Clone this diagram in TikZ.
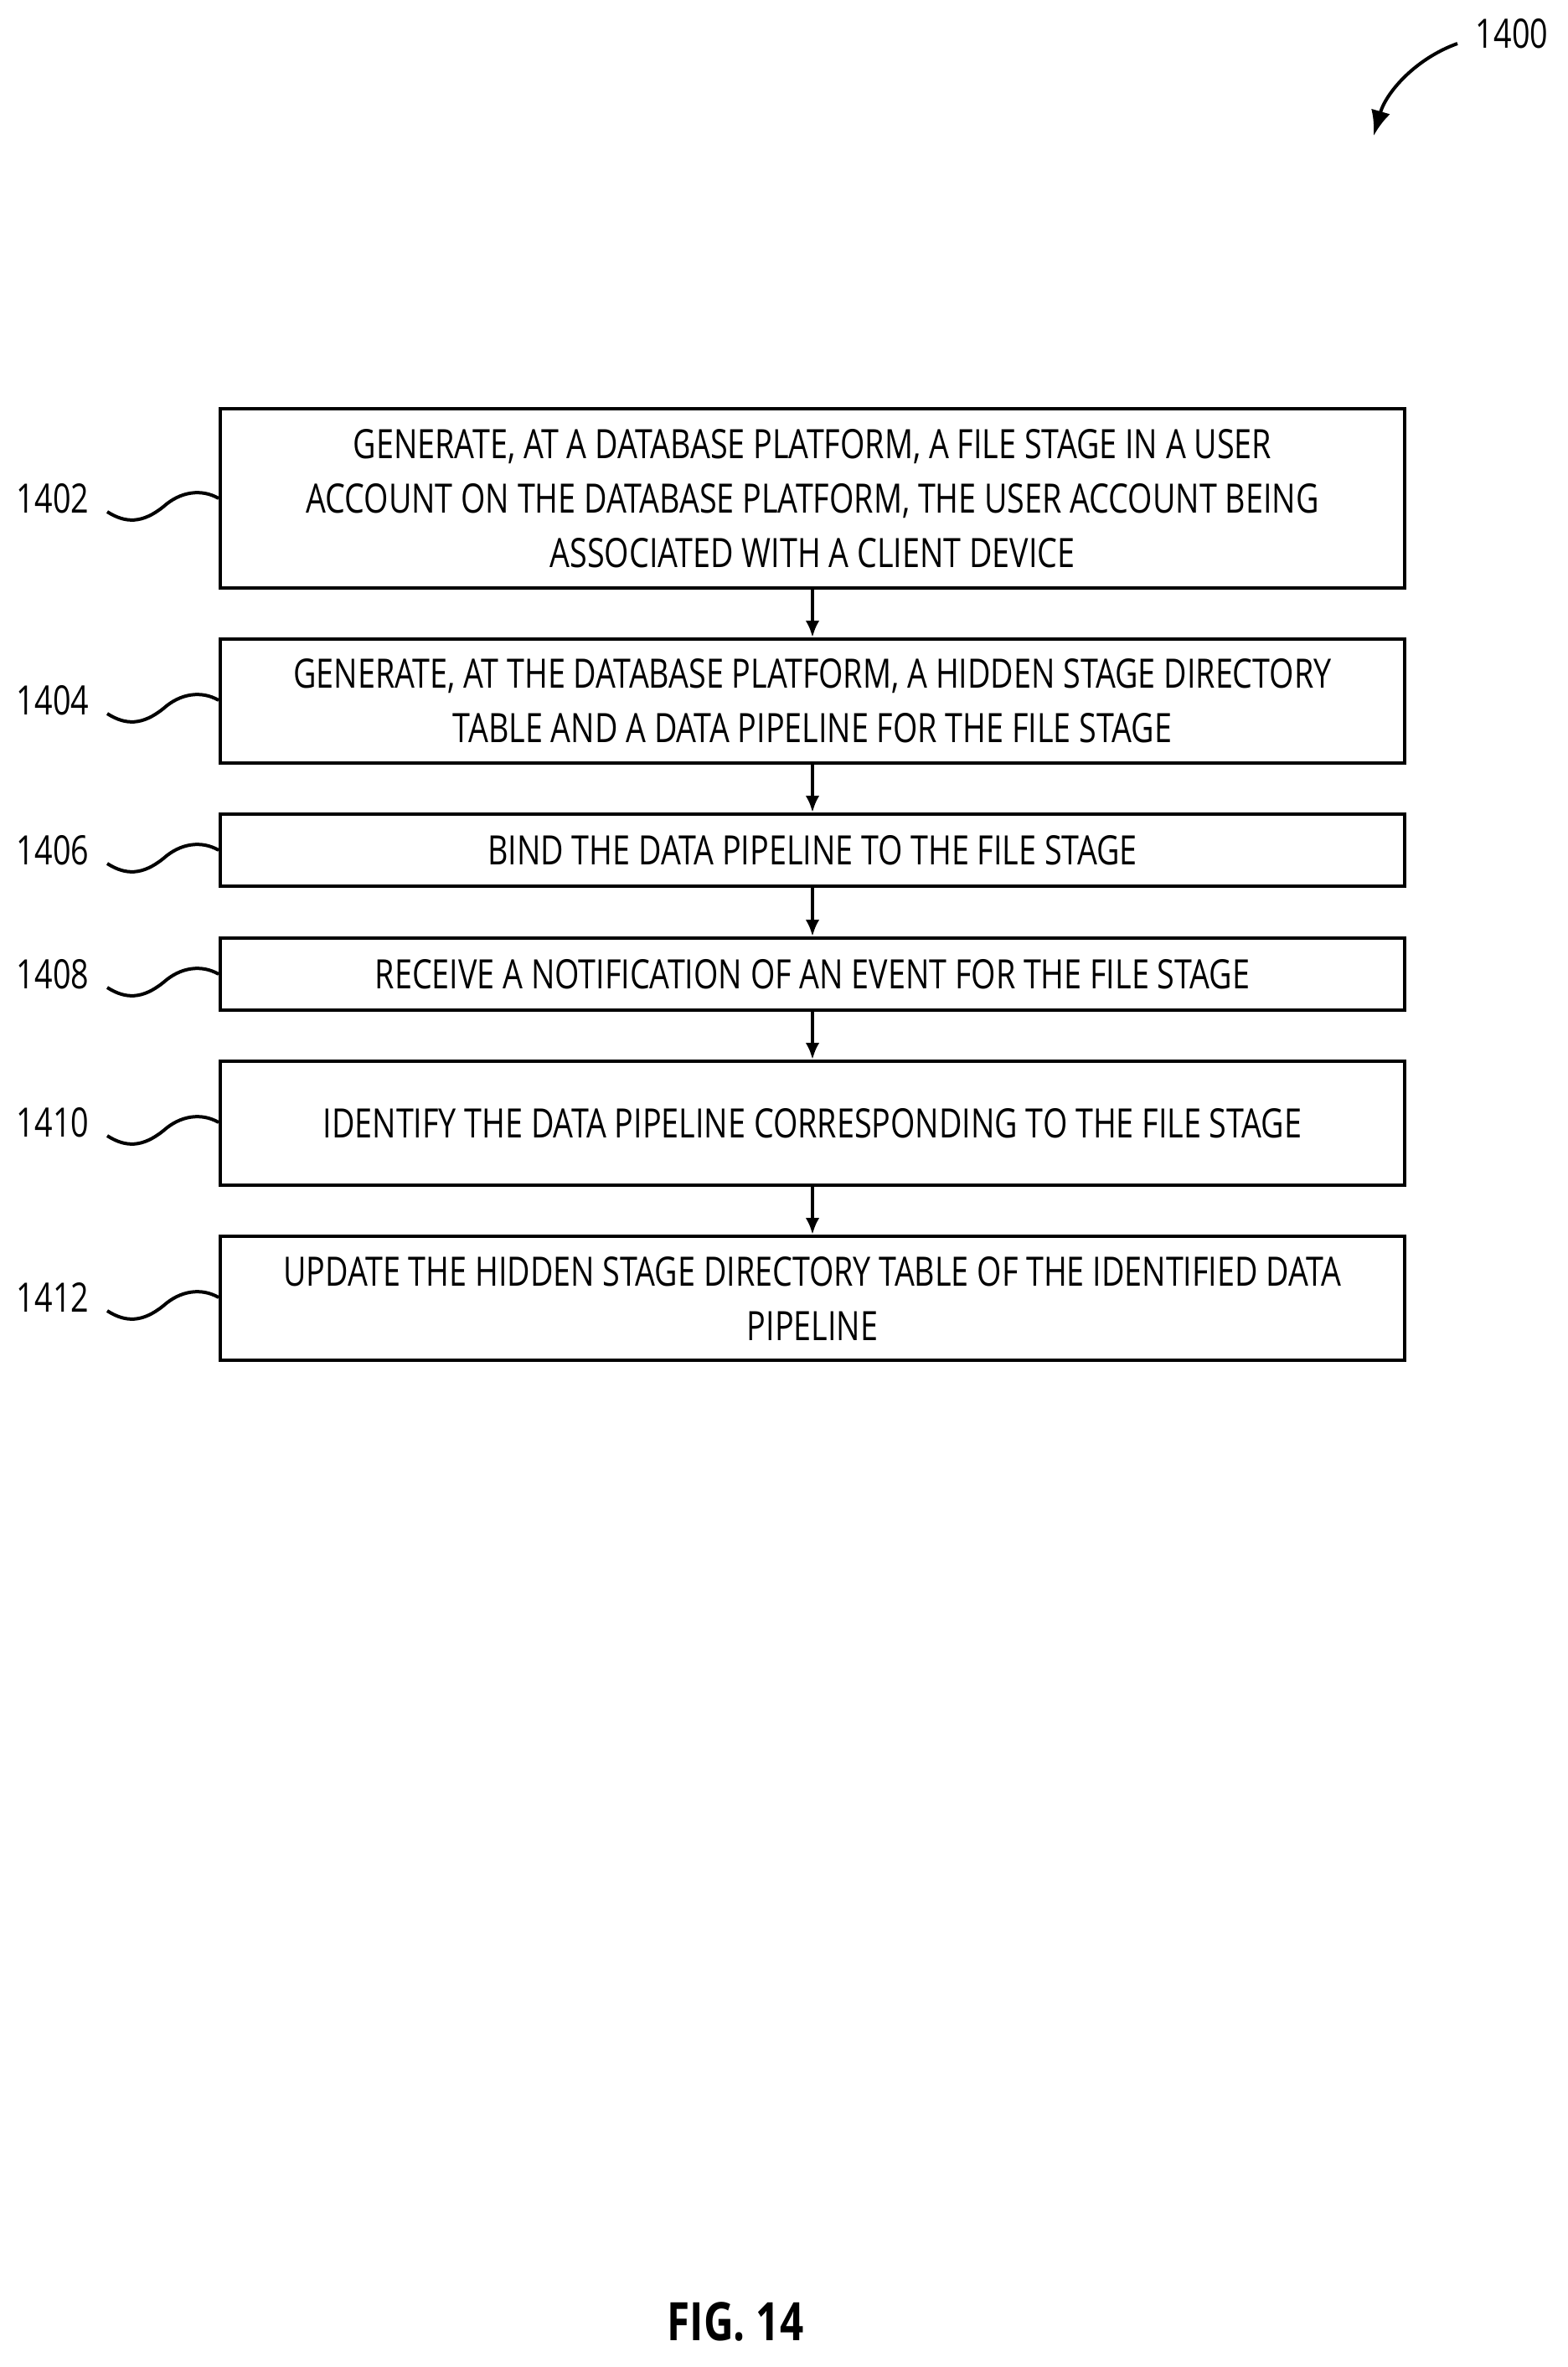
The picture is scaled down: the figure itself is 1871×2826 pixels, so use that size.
\documentclass[tikz,border=0pt]{standalone}
\usepackage{fontspec}
\setmainfont{Open Sans}[FakeStretch=0.78]
\begin{document}
\begin{tikzpicture}[x=0.3pt,y=-0.3pt,
  box/.style={draw,line width=1.2pt,minimum width=1414*0.3pt,inner sep=0pt,align=center,font=\fontsize{14.5}{19.5}\selectfont},
  arr/.style={-{Latex[length=6pt,width=5pt]},line width=1.2pt},
  lbl/.style={font=\fontsize{14.5}{17}\selectfont,anchor=center},
  sq/.style={line width=1.2pt}]
\usetikzlibrary{arrows.meta}
\useasboundingbox (0,0) rectangle (1871,2826);
\def\bx{970}
\node[box,minimum height=214*0.3pt] (b1) at (\bx,595) {GENERATE, AT A DATABASE PLATFORM, A FILE STAGE IN A USER\\ACCOUNT ON THE DATABASE PLATFORM, THE USER ACCOUNT BEING\\ASSOCIATED WITH A CLIENT DEVICE};
\node[box,minimum height=148*0.3pt] (b2) at (\bx,837) {GENERATE, AT THE DATABASE PLATFORM, A HIDDEN STAGE DIRECTORY\\TABLE AND A DATA PIPELINE FOR THE FILE STAGE};
\node[box,minimum height=86*0.3pt] (b3) at (\bx,1015) {BIND THE DATA PIPELINE TO THE FILE STAGE};
\node[box,minimum height=86*0.3pt] (b4) at (\bx,1163) {RECEIVE A NOTIFICATION OF AN EVENT FOR THE FILE STAGE};
\node[box,minimum height=148*0.3pt] (b5) at (\bx,1341) {IDENTIFY THE DATA PIPELINE CORRESPONDING TO THE FILE STAGE};
\node[box,minimum height=148*0.3pt] (b6) at (\bx,1550) {UPDATE THE HIDDEN STAGE DIRECTORY TABLE OF THE IDENTIFIED DATA\\PIPELINE};
\foreach \a/\b in {b1/b2,b2/b3,b3/b4,b4/b5,b5/b6} \draw[arr] (\a.south) -- (\b.north);
\foreach \n/\t/\y in {b1/1402/595,b2/1404/836,b3/1406/1015,b4/1408/1163,b5/1410/1340,b6/1412/1549}{
  \node[lbl] (l\t) at (63,\y) {\t};
  \coordinate (s\t) at (128,\y+16);
  \draw[sq] (s\t) .. controls (150,\y+30) and (170,\y+30) .. (195,\y+10)
     .. controls (215,\y-8) and (240,\y-12) .. (\n.west |- 0,\y);
}
\node[lbl] (l1400) at (1805,40) {1400};
\coordinate (a0) at (1740,52);
\coordinate (a1) at (1640,162);
\draw[line width=1.2pt,-{Latex[length=9pt,width=7pt]}] (a0) .. controls (1690,70) and (1655,110) .. (a1);
\node[font=\bfseries\fontsize{19}{22}\selectfont] (fig) at (878,2772) {FIG. 14};
\end{tikzpicture}
\end{document}
